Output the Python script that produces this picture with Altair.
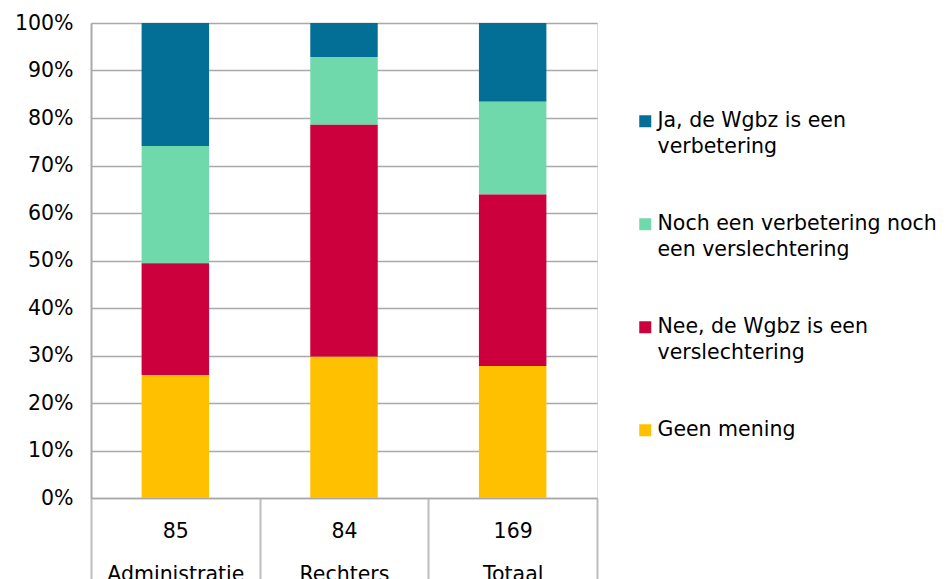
import altair as alt
import pandas as pd

groups = ["Administratie", "Rechters", "Totaal"]
group_n = ["85", "84", "169"]
answers = [
    "Ja, de Wgbz is een|verbetering",
    "Noch een verbetering noch|een verslechtering",
    "Nee, de Wgbz is een|verslechtering",
    "Geen mening",
]
colors = ["#036f96", "#70d9ac", "#cc003c", "#ffc000"]
ja = [22, 6, 28]
noch = [21, 12, 33]
nee = [20, 41, 61]
geen = [22, 25, 47]
y_ticks = [0, 0.1, 0.2, 0.3, 0.4, 0.5, 0.6, 0.7, 0.8, 0.9, 1.0]

rows = []
for i, (series, vals) in enumerate(zip(answers, [ja, noch, nee, geen])):
    for g, n, v in zip(groups, group_n, vals):
        rows.append({"groep": f"{n}|{g}", "antwoord": series, "aantal": v, "volgorde": 3 - i})
df = pd.DataFrame(rows)

FONT = "DejaVu Sans"
FS = 20.5
GRID = "#a9a9a9"

chart = alt.Chart(df).mark_bar(width=alt.RelativeBandSize(0.4)).encode(
    x=alt.X(
        "groep:N",
        sort=[f"{n}|{g}" for g, n in zip(groups, group_n)],
        scale=alt.Scale(paddingInner=0, paddingOuter=0),
        axis=alt.Axis(
            title=None,
            labelExpr="split(datum.label, '|')",
            labelAngle=0,
            labelBaseline="top",
            labelLineHeight=43,
            labelFontSize=FS,
            labelFont=FONT,
            labelColor="#000000",
            tickBand="extent",
            tickSize=100,
            tickColor="#bdbdbd",
            tickWidth=2,
            labelPadding=-77,
            domainColor=GRID,
            domainWidth=1.5,
            grid=False,
        ),
    ),
    y=alt.Y(
        "aantal:Q",
        stack="normalize",
        scale=alt.Scale(domain=[0, 1]),
        axis=alt.Axis(
            title=None,
            format=".0%",
            values=y_ticks,
            ticks=False,
            labelPadding=18,
            labelFontSize=FS,
            labelFont=FONT,
            labelColor="#000000",
            domainColor=GRID,
            domainWidth=2,
            gridColor=GRID,
            gridWidth=1.5,
            minExtent=83,
            maxExtent=83,
        ),
    ),
    color=alt.Color(
        "antwoord:N",
        scale=alt.Scale(domain=answers, range=colors),
        legend=alt.Legend(
            title=None,
            orient="none",
            legendX=544,
            legendY=88,
            symbolType="square",
            symbolSize=144,
            symbolStrokeWidth=0,
            labelExpr="split(datum.label, '|')",
            labelFont=FONT,
            labelFontSize=FS,
            labelColor="#000000",
            labelBaseline="middle",
            labelOffset=2,
            labelLimit=400,
            rowPadding=56,
            padding=0,
        ),
    ),
    order=alt.Order("volgorde:Q", sort="ascending"),
).properties(
    width=506,
    height=475,
    padding={"left": 0, "top": 5, "right": 0, "bottom": 0},
).configure_view(
    stroke=GRID, strokeWidth=1.5
).configure(
    style={"guide-label": {"lineHeight": 26}}
)

chart.save("out.html", embed_options={"renderer": "svg", "actions": False})
